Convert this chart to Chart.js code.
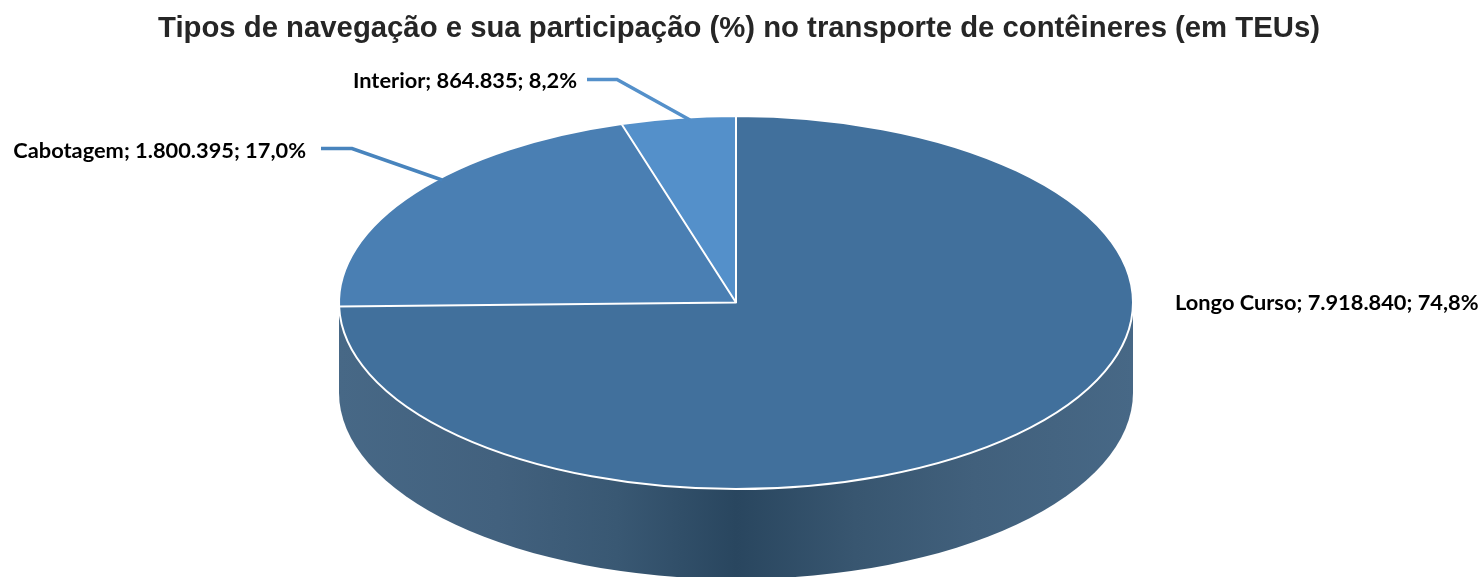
<!DOCTYPE html>
<html lang="pt-BR">
<head>
<meta charset="utf-8">
<title>Tipos de navegação</title>
<style>html,body{margin:0;padding:0;background:#fff}canvas{display:block}</style>
<script src="https://cdn.jsdelivr.net/npm/chart.js@4/dist/chart.umd.min.js"></script>
</head>
<body>
<canvas id="c" width="1480" height="577"></canvas>
<script>
const categories = ['Longo Curso', 'Cabotagem', 'Interior'];
const teus = [7918840, 1800395, 864835];
const sliceColors = ['#41709C', '#4A7FB3', '#5490CA'];
const chartTitle = 'Tipos de navegação e sua participação (%) no transporte de contêineres (em TEUs)';

const RX = 397, RY = 186.5, DEPTH = 90, SHIFT_X = -3, FORESHORTEN = 0.534;
const LABEL_FONT = 'bold 21.8px Lato, Carlito, sans-serif';

const total = teus.reduce((a, b) => a + b, 0);
const fmtInt = v => String(v).replace(/\B(?=(\d{3})+$)/g, '.');
const labelText = i => categories[i] + '; ' + fmtInt(teus[i]) + '; ' + (teus[i] / total * 100).toFixed(1).replace('.', ',') + '%';

const warp = a => {
  const phi = a + Math.PI / 2;
  let w = Math.atan2(FORESHORTEN * Math.sin(phi), Math.cos(phi));
  w += Math.round((phi - w) / (2 * Math.PI)) * 2 * Math.PI;
  return w - Math.PI / 2;
};

const pie3d = {
  id: 'pie3d',
  afterDatasetUpdate(chart) {
    for (const arc of chart.getDatasetMeta(0).data) {
      const s = warp(arc.startAngle), e = warp(arc.endAngle);
      arc.startAngle = s; arc.endAngle = e; arc.circumference = e - s;
    }
  },
  beforeDatasetsDraw(chart) {
    const ctx = chart.ctx, arc0 = chart.getDatasetMeta(0).data[0];
    const cx = arc0.x + SHIFT_X, cy = arc0.y;
    const g = ctx.createLinearGradient(cx - RX, 0, cx + RX, 0);
    g.addColorStop(0, '#476886');
    g.addColorStop(0.2, '#42617E');
    g.addColorStop(0.35, '#395873');
    g.addColorStop(0.5, '#29465F');
    g.addColorStop(0.65, '#385670');
    g.addColorStop(0.8, '#41607C');
    g.addColorStop(1, '#476886');
    ctx.save();
    ctx.beginPath();
    ctx.moveTo(cx + RX, cy);
    ctx.lineTo(cx + RX, cy + DEPTH);
    ctx.ellipse(cx, cy + DEPTH, RX, RY, 0, 0, Math.PI);
    ctx.lineTo(cx - RX, cy);
    ctx.closePath();
    ctx.fillStyle = g;
    ctx.fill();
    ctx.restore();
  },
  beforeDatasetDraw(chart) {
    const ctx = chart.ctx, arc0 = chart.getDatasetMeta(0).data[0];
    ctx.save();
    ctx.translate(arc0.x + SHIFT_X, arc0.y);
    ctx.scale(1, RY / RX);
    ctx.translate(-arc0.x, -arc0.y);
  },
  afterDatasetDraw(chart) {
    const ctx = chart.ctx;
    const arcs = chart.getDatasetMeta(0).data;
    ctx.beginPath();
    for (const a of arcs) {
      ctx.moveTo(a.x, a.y);
      ctx.arc(a.x, a.y, a.outerRadius, a.startAngle, a.endAngle);
      ctx.closePath();
    }
    ctx.restore();
    ctx.save();
    ctx.strokeStyle = '#FFFFFF';
    ctx.lineWidth = 2;
    ctx.lineJoin = 'round';
    ctx.stroke();
    ctx.restore();
  },
  afterDraw(chart) {
    const ctx = chart.ctx;
    const leaders = [
      null,
      { pts: [[321, 148.5], [352, 148.5], [442, 180]], color: '#4884BD', x: 306, y: 151, align: 'right' },
      { pts: [[587, 79.5], [617, 79.5], [690, 120]], color: '#5490CA', x: 577, y: 81, align: 'right' }
    ];
    const anchors = [{ x: 1175, y: 303, align: 'left' }, leaders[1], leaders[2]];
    ctx.save();
    leaders.forEach(l => {
      if (!l) return;
      ctx.beginPath();
      l.pts.forEach((p, i) => i ? ctx.lineTo(p[0], p[1]) : ctx.moveTo(p[0], p[1]));
      ctx.strokeStyle = l.color;
      ctx.lineWidth = 3.5;
      ctx.stroke();
    });
    ctx.font = LABEL_FONT;
    ctx.fillStyle = '#000';
    ctx.textBaseline = 'middle';
    anchors.forEach((a, i) => {
      ctx.textAlign = a.align;
      ctx.fillText(labelText(i), a.x, a.y);
    });
    ctx.restore();
  }
};

new Chart(document.getElementById('c'), {
  type: 'pie',
  data: {
    labels: categories,
    datasets: [{ data: teus, backgroundColor: sliceColors, borderWidth: 0, clip: false }]
  },
  options: {
    responsive: false,
    animation: false,
    events: [],
    radius: RX,
    layout: { padding: { left: 0, right: 2, top: 0, bottom: 88 } },
    plugins: {
      legend: { display: false },
      tooltip: { enabled: false },
      title: {
        display: true,
        text: chartTitle,
        color: '#262626',
        font: { family: '"Liberation Sans", Arial, sans-serif', size: 29.3, weight: 'bold', lineHeight: 1.2 },
        padding: { top: 11, bottom: 70 }
      }
    }
  },
  plugins: [pie3d]
});
</script>
</body>
</html>
